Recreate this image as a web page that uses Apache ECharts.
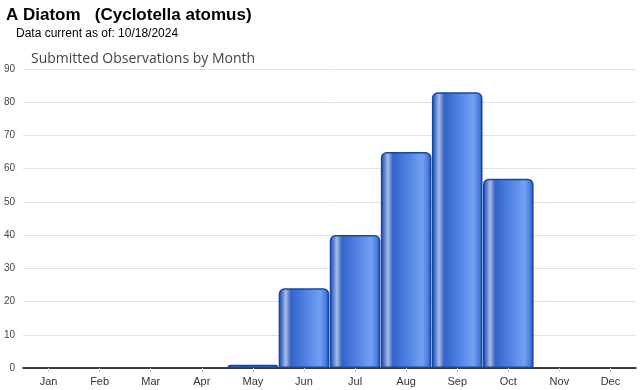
<!DOCTYPE html>
<html><head><meta charset="utf-8">
<script src="https://cdn.jsdelivr.net/npm/echarts@6/dist/echarts.min.js"></script>
<style>html,body{margin:0;padding:0;background:#fff}#c{width:640px;height:390px}</style>
</head><body><div id="c"></div>
<script>
var titleText = 'A Diatom   (Cyclotella atomus)';
var subText = 'Data current as of: 10/18/2024';
var chartTitle = 'Submitted Observations by Month';
var months = ['Jan','Feb','Mar','Apr','May','Jun','Jul','Aug','Sep','Oct','Nov','Dec'];
var observations = [0,0,0,0,1,24,40,65,83,57,0,0];
var yMin = 0, yMax = 90, yStep = 10;

var chart = echarts.init(document.getElementById('c'), null, {renderer:'canvas'});
var grad = new echarts.graphic.LinearGradient(0,0,1,0,[
  {offset:0, color:'#1d4fb8'},
  {offset:0.06, color:'#4a74c8'},
  {offset:0.14, color:'#a9bde3'},
  {offset:0.24, color:'#3463c8'},
  {offset:0.5, color:'#4d7fe0'},
  {offset:0.82, color:'#72a0f2'},
  {offset:0.93, color:'#4c7ee0'},
  {offset:1, color:'#1d4fb8'}
]);
chart.setOption({
  animation:false,
  title:[
    {text:titleText, left:6, top:7, padding:0, textStyle:{fontFamily:'Liberation Sans, Arial', fontSize:17, fontWeight:'bold', color:'#000'}},
    {text:subText, left:16, top:28, padding:0, textStyle:{fontFamily:'Liberation Sans, Arial', fontSize:12, fontWeight:'normal', color:'#000'}},
    {text:chartTitle, left:31, top:52, padding:0, textStyle:{fontFamily:'Open Sans, DejaVu Sans', fontSize:14, fontWeight:'normal', color:'#444'}}
  ],
  grid:{left:23, right:4, top:69, bottom:22, containLabel:false},
  xAxis:{type:'category', data:months,
    axisLine:{lineStyle:{color:'#000', width:1.5}},
    axisTick:{show:true, alignWithLabel:true, length:4, lineStyle:{color:'#ccc'}},
    axisLabel:{fontFamily:'Liberation Sans, Arial', fontSize:11, color:'#333', margin:8}},
  yAxis:{type:'value', min:yMin, max:yMax, interval:yStep,
    axisLine:{show:false}, axisTick:{show:false},
    splitLine:{lineStyle:{color:'#e2e2e2', width:1}},
    axisLabel:{fontFamily:'Liberation Sans, Arial', fontSize:10, color:'#444', margin:8}},
  series:[{type:'bar', data:observations.map(function(v){return v === 0 ? '-' : v;}), barCategoryGap:'1%',
    itemStyle:{color:grad, borderColor:'#1646a8', borderWidth:1.5, borderRadius:[5,5,0,0]}}]
});
</script></body></html>
